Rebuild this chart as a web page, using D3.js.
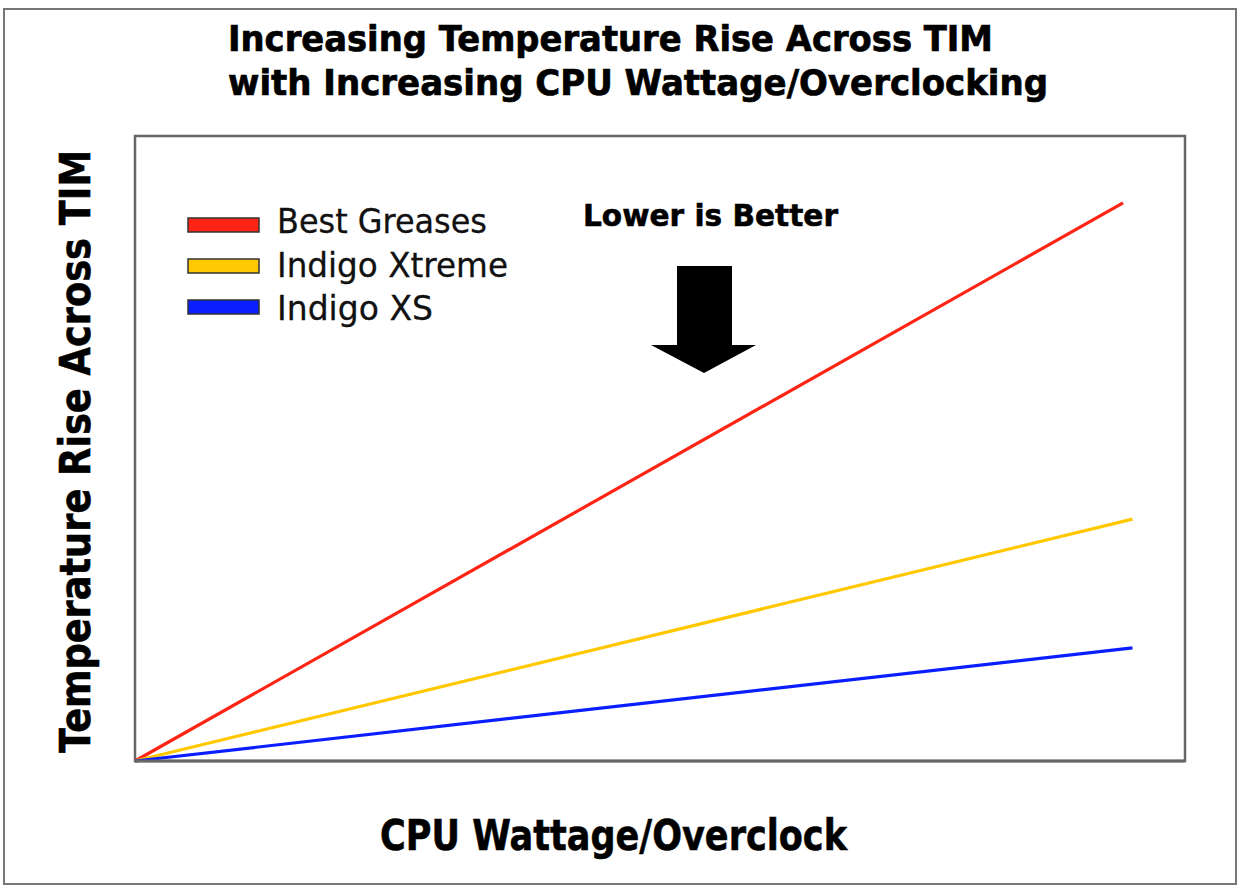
<!DOCTYPE html>
<html>
<head>
<meta charset="utf-8">
<script src="https://cdn.jsdelivr.net/npm/d3@7"></script>
<style>
  body { margin: 0; background: #fff; }
  svg { display: block; }
</style>
</head>
<body>
<svg id="chart" width="1239" height="886"></svg>
<script>
// series
var seriesNames = ["Best Greases", "Indigo Xtreme", "Indigo XS"];
var seriesColors = ["#ff2414", "#ffc800", "#0a1eff"];
var xStart = [0, 0, 0];
var yStart = [0, 0, 0];
var xEnd = [94.1, 95.0, 95.0];
var yEnd = [89.3, 38.7, 18.1];

var titleLines = ["Increasing Temperature Rise Across TIM", "with Increasing CPU Wattage/Overclocking"];
var xLabel = "CPU Wattage/Overclock";
var yLabel = "Temperature Rise Across TIM";
var note = "Lower is Better";

var svg = d3.select("#chart"),
    margin = {top: 136, right: 54, bottom: 125, left: 135},
    width = svg.attr("width") - margin.left - margin.right,
    height = svg.attr("height") - margin.top - margin.bottom;

var font = "'DejaVu Sans', Verdana, sans-serif";

// outer frame
svg.append("rect")
    .attr("x", 4).attr("y", 9)
    .attr("width", 1232).attr("height", 875)
    .attr("fill", "#fff")
    .attr("stroke", "#777")
    .attr("stroke-width", 2);

// title
svg.selectAll(".title")
  .data(titleLines)
  .enter().append("text")
    .attr("class", "title")
    .attr("x", 228)
    .attr("y", function(d, i) { return 51 + i * 44; })
    .attr("textLength", function(d, i) { return i == 0 ? 765 : 820; })
    .attr("lengthAdjust", "spacingAndGlyphs")
    .style("font", "bold 35px " + font)
    .style("stroke", "#000").style("stroke-width", 0.7)
    .text(function(d) { return d; });

var g = svg.append("g").attr("transform", "translate(" + margin.left + "," + margin.top + ")");

var x = d3.scaleLinear().domain([0, 100]).range([0, width]);
var y = d3.scaleLinear().domain([0, 100]).range([height, 0]);

var data = seriesNames.map(function(name, i) {
  return {
    id: name,
    color: seriesColors[i],
    values: [{x: xStart[i], y: yStart[i]}, {x: xEnd[i], y: yEnd[i]}]
  };
});

var line = d3.line()
    .x(function(d) { return x(d.x); })
    .y(function(d) { return y(d.y); });

// plot box
g.append("rect")
    .attr("width", width).attr("height", height)
    .attr("fill", "#fff")
    .attr("stroke", "#666")
    .attr("stroke-width", 2.5);

g.selectAll(".series")
  .data(data)
  .enter().append("path")
    .attr("class", "series")
    .attr("d", function(d) { return line(d.values); })
    .attr("fill", "none")
    .attr("stroke", function(d) { return d.color; })
    .attr("stroke-width", 3.2);

// bottom axis line drawn over lines
g.append("line")
    .attr("x1", 0).attr("x2", width)
    .attr("y1", height).attr("y2", height)
    .attr("stroke", "#666").attr("stroke-width", 3);

// legend
var legend = svg.selectAll(".legend")
  .data(data)
  .enter().append("g")
    .attr("class", "legend");

legend.append("rect")
    .attr("x", 188)
    .attr("y", function(d, i) { return 218 + i * 41; })
    .attr("width", 71).attr("height", 14)
    .attr("fill", function(d) { return d.color; })
    .attr("stroke", "#333")
    .attr("stroke-width", 1.5);

legend.append("text")
    .attr("x", 277)
    .attr("y", function(d, i) { return 233 + i * 43.5; })
    .attr("textLength", function(d, i) { return [210, 231, 156][i]; })
    .attr("lengthAdjust", "spacingAndGlyphs")
    .style("font", "34px " + font)
    .style("fill", "#111")
    .style("stroke", "#111").style("stroke-width", 0.3)
    .text(function(d) { return d.id; });

// note and arrow
svg.append("text")
    .attr("x", 583).attr("y", 226)
    .attr("textLength", 255)
    .attr("lengthAdjust", "spacingAndGlyphs")
    .style("font", "bold 31px " + font)
    .style("stroke", "#000").style("stroke-width", 0.6)
    .text(note);

svg.append("path")
    .attr("d", "M677,266 L732,266 L732,345 L756,345 L704,373 L651,345 L677,345 Z")
    .attr("fill", "#000");

// axis titles
svg.append("text")
    .attr("x", 380).attr("y", 850)
    .attr("textLength", 467)
    .attr("lengthAdjust", "spacingAndGlyphs")
    .style("font", "bold 42px " + font)
    .style("stroke", "#000").style("stroke-width", 0.6)
    .text(xLabel);

svg.append("text")
    .attr("transform", "translate(90,753) rotate(-90)")
    .attr("textLength", 603)
    .attr("lengthAdjust", "spacingAndGlyphs")
    .style("font", "bold 43px " + font)
    .style("stroke", "#000").style("stroke-width", 0.6)
    .text(yLabel);
</script>
</body>
</html>
